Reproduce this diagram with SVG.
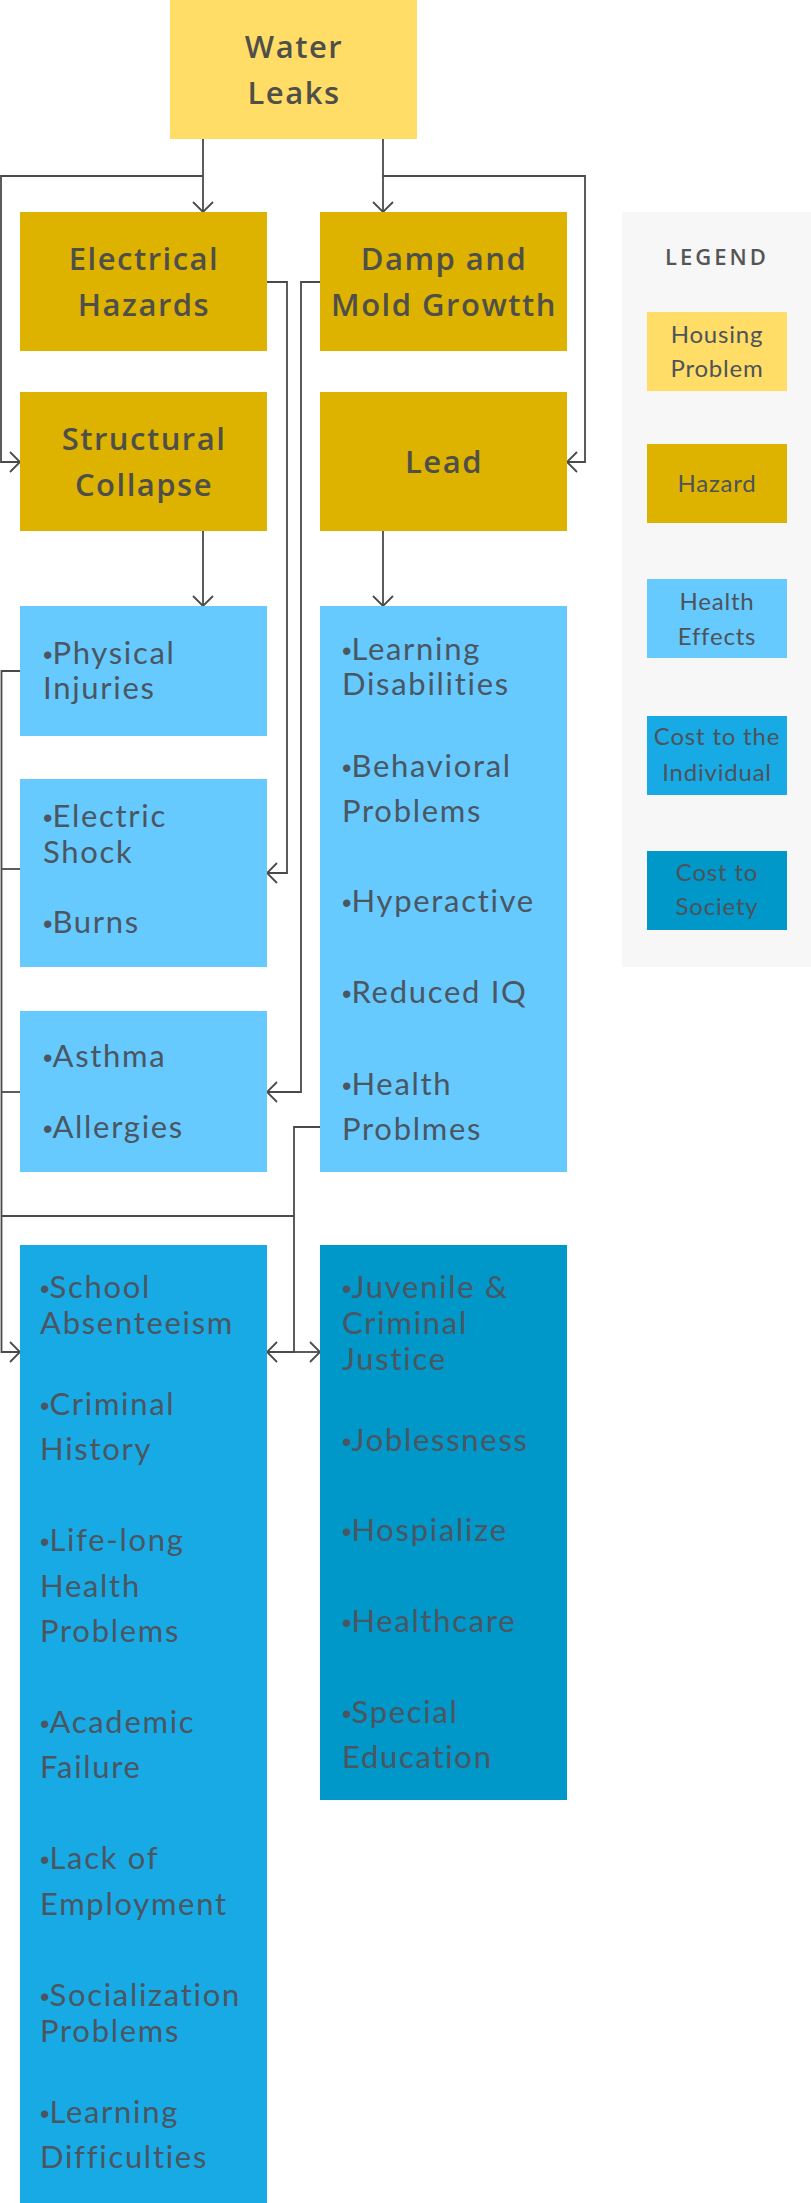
<svg xmlns="http://www.w3.org/2000/svg" width="811" height="2203" viewBox="0 0 811 2203">
<defs>
<style>
.title{font-family:"Open Sans","Liberation Sans",sans-serif;font-weight:600;font-size:31px;letter-spacing:1.5px;fill:#4f4f4a;text-anchor:middle}
.body{font-family:Lato,"Liberation Sans",sans-serif;font-size:31px;letter-spacing:1.7px;fill:#4a5661}
.bl{font-family:"Liberation Sans",sans-serif;font-size:27px;letter-spacing:0px}
.leg{font-family:Lato,"Liberation Sans",sans-serif;font-size:24px;letter-spacing:0.8px;fill:#4d5359;text-anchor:middle}
.legtitle{font-family:"Open Sans","Liberation Sans",sans-serif;font-weight:600;font-size:22px;letter-spacing:3px;fill:#555555;text-anchor:middle}
.conn{fill:none;stroke:#4a4a4a;stroke-width:1.8}
.housing{fill:#FFDD66}
.hazard{fill:#DDB300}
.health{fill:#66CAFF}
.indiv{fill:#18AAE5}
.society{fill:#0097C9}
</style>
<marker id="arr" viewBox="0 0 12 22" refX="11" refY="11" markerWidth="12" markerHeight="22" markerUnits="userSpaceOnUse" orient="auto">
<path d="M1,1 L11,11 L1,21" fill="none" stroke="#4a4a4a" stroke-width="1.8"/>
</marker>
</defs>
<rect width="811" height="2203" fill="#ffffff"/>

<g id="legend">
<rect x="622" y="212" width="189" height="755" fill="#f7f7f7"/>
<text class="legtitle" x="717" y="265">LEGEND</text>
<rect class="housing" x="647" y="312" width="140" height="79"/>
<text class="leg" x="717" y="343">Housing</text>
<text class="leg" x="717" y="377">Problem</text>
<rect class="hazard" x="647" y="444" width="140" height="79"/>
<text class="leg" x="717" y="492">Hazard</text>
<rect class="health" x="647" y="579" width="140" height="79"/>
<text class="leg" x="717" y="610">Health</text>
<text class="leg" x="717" y="645">Effects</text>
<rect class="indiv" x="647" y="716" width="140" height="79"/>
<text class="leg" x="717" y="745">Cost to the</text>
<text class="leg" x="717" y="781">Individual</text>
<rect class="society" x="647" y="851" width="140" height="79"/>
<text class="leg" x="717" y="881">Cost to</text>
<text class="leg" x="717" y="915">Society</text>
</g>

<g id="connectors">
<path class="conn" d="M203,139 V212" marker-end="url(#arr)"/>
<path class="conn" d="M203,176 H1 V462 H20" marker-end="url(#arr)"/>
<path class="conn" d="M383,139 V212" marker-end="url(#arr)"/>
<path class="conn" d="M383,176 H585 V462 H567" marker-end="url(#arr)"/>
<path class="conn" d="M267,282 H287 V873 H267" marker-end="url(#arr)"/>
<path class="conn" d="M320,282 H301 V1092 H267" marker-end="url(#arr)"/>
<path class="conn" d="M203,531 V606" marker-end="url(#arr)"/>
<path class="conn" d="M383,531 V606" marker-end="url(#arr)"/>
<path class="conn" d="M20,671 H1.5 V1352 H20" marker-end="url(#arr)"/>
<path class="conn" d="M20,869 H1.5"/>
<path class="conn" d="M20,1092 H1.5"/>
<path class="conn" d="M1.5,1216 H294"/>
<path class="conn" d="M320,1127 H294 V1352 H267" marker-end="url(#arr)"/>
<path class="conn" d="M294,1352 H320" marker-end="url(#arr)"/>
</g>

<g id="water-leaks">
<rect class="housing" x="170" y="0" width="247" height="139"/>
<text class="title" x="294" y="58">Water</text>
<text class="title" x="294" y="104">Leaks</text>
</g>

<g id="electrical-hazards">
<rect class="hazard" x="20" y="212" width="247" height="139"/>
<text class="title" x="144" y="270">Electrical</text>
<text class="title" x="144" y="316">Hazards</text>
</g>

<g id="damp-mold">
<rect class="hazard" x="320" y="212" width="247" height="139"/>
<text class="title" x="444" y="270">Damp and</text>
<text class="title" x="444" y="316">Mold Growtth</text>
</g>

<g id="structural-collapse">
<rect class="hazard" x="20" y="392" width="247" height="139"/>
<text class="title" x="144" y="450">Structural</text>
<text class="title" x="144" y="496">Collapse</text>
</g>

<g id="lead">
<rect class="hazard" x="320" y="392" width="247" height="139"/>
<text class="title" x="444" y="473">Lead</text>
</g>

<g id="physical-injuries">
<rect class="health" x="20" y="606" width="247" height="130"/>
<text class="body" x="43" y="664"><tspan class="bl">•</tspan>Physical</text>
<text class="body" x="43" y="699">Injuries</text>
</g>

<g id="shock-burns">
<rect class="health" x="20" y="779" width="247" height="188"/>
<text class="body" x="43" y="827"><tspan class="bl">•</tspan>Electric</text>
<text class="body" x="43" y="863">Shock</text>
<text class="body" x="43" y="933"><tspan class="bl">•</tspan>Burns</text>
</g>

<g id="asthma-allergies">
<rect class="health" x="20" y="1011" width="247" height="161"/>
<text class="body" x="43" y="1067"><tspan class="bl">•</tspan>Asthma</text>
<text class="body" x="43" y="1138"><tspan class="bl">•</tspan>Allergies</text>
</g>

<g id="lead-effects">
<rect class="health" x="320" y="606" width="247" height="566"/>
<text class="body" x="342" y="660"><tspan class="bl">•</tspan>Learning</text>
<text class="body" x="342" y="695">Disabilities</text>
<text class="body" x="342" y="777"><tspan class="bl">•</tspan>Behavioral</text>
<text class="body" x="342" y="822">Problems</text>
<text class="body" x="342" y="912"><tspan class="bl">•</tspan>Hyperactive</text>
<text class="body" x="342" y="1003"><tspan class="bl">•</tspan>Reduced IQ</text>
<text class="body" x="342" y="1095"><tspan class="bl">•</tspan>Health</text>
<text class="body" x="342" y="1140">Problmes</text>
</g>

<g id="cost-individual">
<rect class="indiv" x="20" y="1245" width="247" height="958"/>
<text class="body" x="40" y="1298"><tspan class="bl">•</tspan>School</text>
<text class="body" x="40" y="1334">Absenteeism</text>
<text class="body" x="40" y="1415"><tspan class="bl">•</tspan>Criminal</text>
<text class="body" x="40" y="1460">History</text>
<text class="body" x="40" y="1551"><tspan class="bl">•</tspan>Life-long</text>
<text class="body" x="40" y="1597">Health</text>
<text class="body" x="40" y="1642">Problems</text>
<text class="body" x="40" y="1733"><tspan class="bl">•</tspan>Academic</text>
<text class="body" x="40" y="1778">Failure</text>
<text class="body" x="40" y="1869"><tspan class="bl">•</tspan>Lack of</text>
<text class="body" x="40" y="1915">Employment</text>
<text class="body" x="40" y="2006"><tspan class="bl">•</tspan>Socialization</text>
<text class="body" x="40" y="2042">Problems</text>
<text class="body" x="40" y="2123"><tspan class="bl">•</tspan>Learning</text>
<text class="body" x="40" y="2168">Difficulties</text>
</g>

<g id="cost-society">
<rect class="society" x="320" y="1245" width="247" height="555"/>
<text class="body" x="342" y="1298"><tspan class="bl">•</tspan>Juvenile &amp;</text>
<text class="body" x="342" y="1334">Criminal</text>
<text class="body" x="342" y="1370">Justice</text>
<text class="body" x="342" y="1451"><tspan class="bl">•</tspan>Joblessness</text>
<text class="body" x="342" y="1541"><tspan class="bl">•</tspan>Hospialize</text>
<text class="body" x="342" y="1632"><tspan class="bl">•</tspan>Healthcare</text>
<text class="body" x="342" y="1723"><tspan class="bl">•</tspan>Special</text>
<text class="body" x="342" y="1768">Education</text>
</g>
</svg>
